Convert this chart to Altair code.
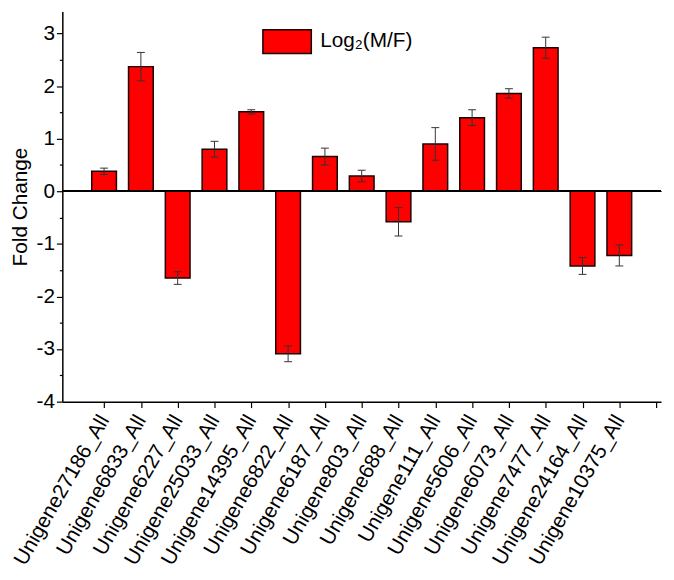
import json
import altair as alt
import pandas as pd

genes = ["Unigene27186_All", "Unigene6833_All", "Unigene6227_All", "Unigene25033_All",
         "Unigene14395_All", "Unigene6822_All", "Unigene6187_All", "Unigene803_All",
         "Unigene688_All", "Unigene111_All", "Unigene5606_All", "Unigene6073_All",
         "Unigene7477_All", "Unigene24164_All", "Unigene10375_All"]
values = [0.38, 2.37, -1.65, 0.80, 1.51, -3.09, 0.66, 0.29, -0.58, 0.90, 1.40, 1.86, 2.73, -1.42, -1.22]
errors = [0.06, 0.27, 0.12, 0.15, 0.04, 0.15, 0.16, 0.11, 0.27, 0.31, 0.15, 0.09, 0.20, 0.16, 0.20]
series_name = "Log\u2082(M/F)"
y_major = [-4, -3, -2, -1, 0, 1, 2, 3]
y_minor = [-3.5, -2.5, -1.5, -0.5, 0.5, 1.5, 2.5]
x_ticks = list(range(1, 17))

df = pd.DataFrame({
    "gene": genes,
    "idx": list(range(1, len(genes) + 1)),
    "value": values,
    "err": errors,
    "series": [series_name] * len(genes),
})
df["lo"] = df["value"] - df["err"]
df["hi"] = df["value"] + df["err"]

FONT = "Liberation Sans"
W, H = 606, 395
xscale = alt.Scale(domain=[0, 16], nice=False, zero=False)
yscale = alt.Scale(domain=[-4, 3.42], nice=False, zero=False)

label_expr = json.dumps(genes) + "[datum.value - 1] || ''"

base = alt.Chart(df)

xaxis = alt.Axis(
    values=x_ticks, labelExpr=label_expr, labelAngle=-60, labelAlign="right",
    labelBaseline="middle", labelFontSize=21, labelFont=FONT, labelColor="black",
    labelPadding=9, tickSize=6, tickColor="black", tickWidth=1.2,
    domainColor="black", domainWidth=1.5, grid=False, title=None, labelOverlap=False)

bars = base.mark_bar(size=25, stroke="#1a0000", strokeWidth=1.5).encode(
    x=alt.X("idx:Q", scale=xscale, axis=xaxis),
    y=alt.Y("value:Q", scale=yscale, axis=alt.Axis(
        values=y_major, labelExpr="'' + datum.value", labelFontSize=21, labelFont=FONT,
        labelColor="black", labelPadding=2, tickSize=6, tickColor="black", tickWidth=1.2,
        domainColor="black", domainWidth=1.5, grid=False,
        title="Fold Change", titleFont=FONT, titleFontSize=21, titleFontWeight="normal",
        titleColor="black", titleX=-32)),
    y2=alt.datum(0),
    color=alt.Color("series:N", scale=alt.Scale(range=["#FF0000"]), legend=alt.Legend(
        title=None, orient="none", legendX=202, legendY=5, padding=0,
        symbolType="M-1,-0.49H1V0.49H-1Z", symbolSize=2401, symbolStrokeColor="#1a0000",
        symbolStrokeWidth=1.5, symbolOpacity=1, labelFont=FONT, labelFontSize=21,
        labelColor="black", labelOffset=8)),
)

zero = alt.Chart(df).mark_rule(color="black", strokeWidth=1.5).encode(
    y=alt.Y(datum=0, scale=yscale, axis=alt.Axis(
        values=y_minor, labels=False, tickSize=3, tickColor="black", tickWidth=1.2,
        domain=False, grid=False, title=None, orient="left")),
)

err_rule = base.mark_rule(color="#333333", strokeWidth=1).encode(
    x=alt.X("idx:Q", scale=xscale, axis=xaxis),
    y=alt.Y("lo:Q", scale=yscale, axis=None),
    y2="hi:Q",
)
cap_lo = base.mark_rule(color="#333333", strokeWidth=1, xOffset=-4, x2Offset=4).encode(
    x=alt.X("idx:Q", scale=xscale, axis=xaxis),
    x2="idx:Q",
    y=alt.Y("lo:Q", scale=yscale, axis=None),
)
cap_hi = base.mark_rule(color="#333333", strokeWidth=1, xOffset=-4, x2Offset=4).encode(
    x=alt.X("idx:Q", scale=xscale, axis=xaxis),
    x2="idx:Q",
    y=alt.Y("hi:Q", scale=yscale, axis=None),
)

chart = alt.layer(bars, zero, err_rule, cap_lo, cap_hi).resolve_axis(y="independent").properties(
    width=W, height=H,
    background="white",
    autosize=alt.AutoSizeParams(type="none"),
    padding={"left": 55, "top": 0, "right": 5, "bottom": 172},
).configure_view(stroke=None)

chart.save("out.html", embed_options={"renderer": "svg", "actions": False})
